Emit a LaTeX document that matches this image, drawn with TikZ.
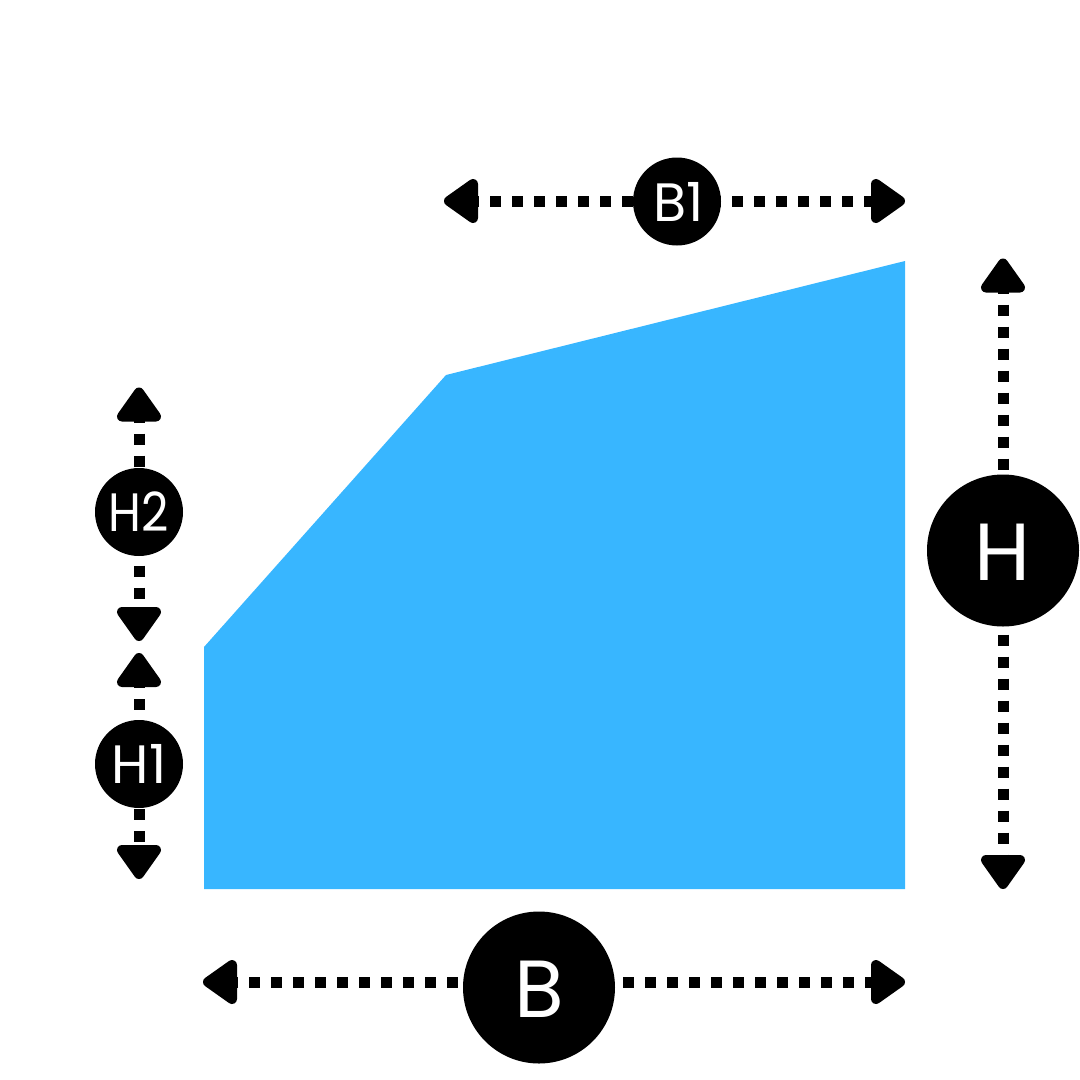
\documentclass[tikz,border=0pt]{standalone}
\usepackage{fontspec}
\usepackage{xcolor}
\usetikzlibrary{arrows.meta}
\setmainfont{Poppins}
\definecolor{areablue}{HTML}{38B6FF}
\pgfdeclarearrow{
  name=DimHead,
  setup code={
    \pgfarrowssettipend{0pt}
    \pgfarrowssetbackend{-34pt}
    \pgfarrowssetlineend{-29pt}
    \pgfarrowssetvisualbackend{-29pt}
  },
  drawing code={
    \pgfsetdash{}{0pt}
    \pgfsetlinewidth{10pt}
    \pgfsetroundjoin
    \pgfpathmoveto{\pgfpoint{-5pt}{0pt}}
    \pgfpathlineto{\pgfpoint{-29pt}{17pt}}
    \pgfpathlineto{\pgfpoint{-29pt}{-17pt}}
    \pgfpathclose
    \pgfusepathqfillstroke
  },
}
\tikzstyle{dim} = [line width=11pt, dash pattern=on 11pt off 11pt, dash phase=5pt, {DimHead}-{DimHead}]
\tikzstyle{small} = [circle, fill=black, text=white, inner sep=0pt, minimum size=88pt, font=\fontsize{54}{54}\selectfont]
\tikzstyle{big} = [circle, fill=black, text=white, inner sep=0pt, minimum size=152pt, font=\fontsize{81}{81}\selectfont]
\begin{document}
\begin{tikzpicture}[x=1pt, y=-1pt]
    \useasboundingbox (0,0) rectangle (1080,1080);
    \fill [areablue] (204,889) -- (204,647) -- (446,375) -- (905,261) -- (905,889) -- cycle;

    \coordinate (b_left) at (203,982);
    \coordinate (b_right) at (905,982);
    \coordinate (b1_left) at (444,201);
    \coordinate (b1_right) at (905,201);
    \coordinate (h_top) at (1003,258.5);
    \coordinate (h_bottom) at (1003,889);
    \coordinate (h2_top) at (139,387.5);
    \coordinate (h2_bottom) at (139,641);
    \coordinate (h1_top) at (139,653);
    \coordinate (h1_bottom) at (139,879);

    \draw [dim] (b_left) -- (b_right);
    \draw [dim] (b1_left) -- (b1_right);
    \draw [dim] (h_top) -- (h_bottom);
    \draw [dim] (h2_top) -- (h2_bottom);
    \draw [dim] (h1_top) -- (h1_bottom);

    \node (b) [big] at (539,987.5) {\raisebox{-2pt}[\height][0pt]{B}};
    \node (b1) [small] at (677,201.5) {\hspace{3pt}B1};
    \node (h) [big] at (1003,550.5) {\raisebox{-2pt}[\height][0pt]{H}};
    \node (h2) [small] at (139,512) {\scalebox{0.88}[1]{H2}};
    \node (h1) [small] at (139,764) {H1};
\end{tikzpicture}
\end{document}
